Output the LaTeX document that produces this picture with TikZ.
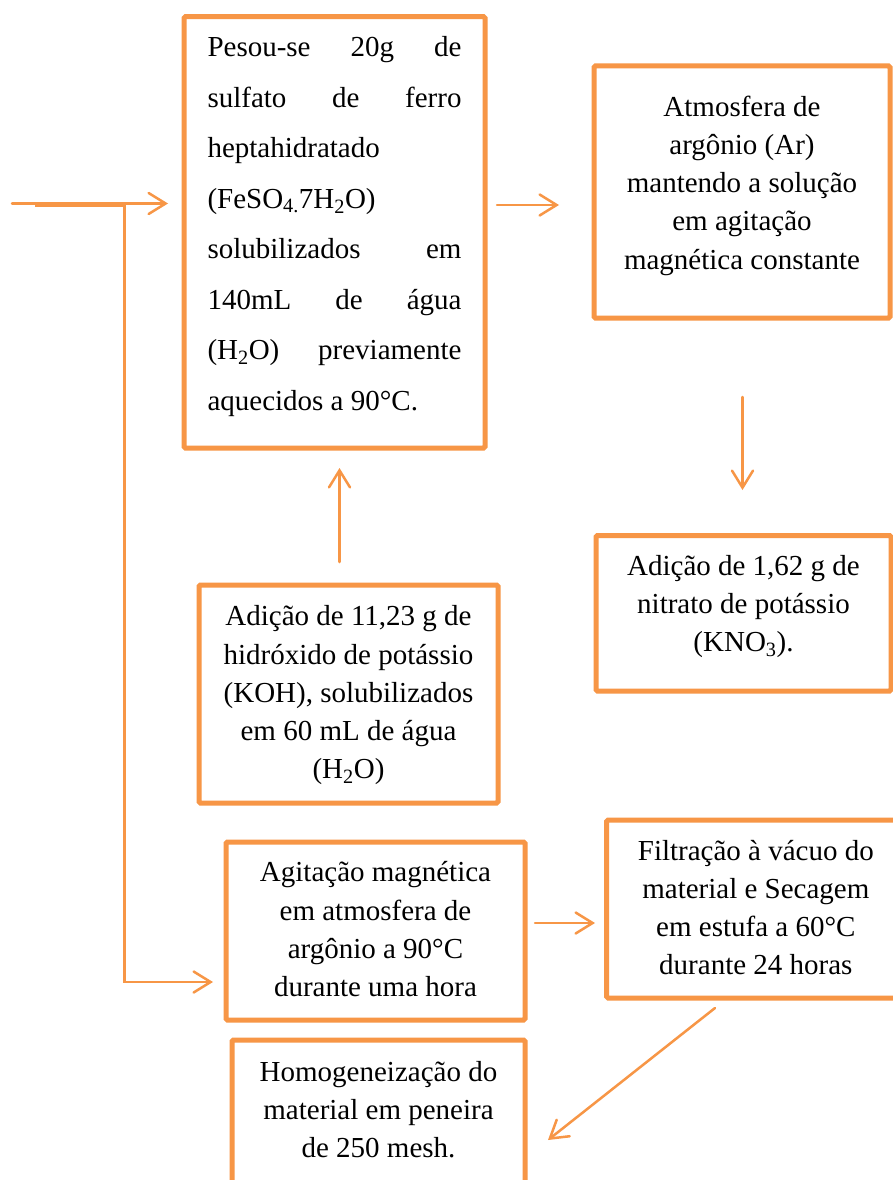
\documentclass[tikz,border=0pt]{standalone}
\usepackage{fontspec}
\setmainfont{Liberation Serif}
\usetikzlibrary{arrows.meta,calc}
\definecolor{orng}{HTML}{F79646}
\newcommand{\bxt}[5]{\parbox[c][#1][t]{#2}{\fontsize{29pt}{#3}\selectfont\vspace*{#4}\centering #5}}
\begin{document}
\begin{tikzpicture}[x=1pt,y=-1pt,
  box/.style={draw=orng, line width=5pt, rectangle, inner sep=0pt, outer sep=0pt, rounded corners=1.5pt, fill=white},
  conn/.style={draw=orng, line width=2.5pt, line cap=round, -{Straight Barb[length=17pt,width=21pt,line cap=round]}},
  thickseg/.style={draw=orng, line width=4.5pt}]
\useasboundingbox (0,0) rectangle (893,1180);
\fill[white] (0,0) rectangle (893,1180);
\clip (0,0) rectangle (893,1180);

% boxes
\node[box] (b1) at (334.5,232.35) {\parbox[c][431.3pt][t]{301pt}{\fontsize{29pt}{50.5pt}\selectfont\vspace*{4.65pt}\centering
  \parbox[t]{254pt}{\strut Pesou-se\hfill 20g\hfill de\\
  \strut sulfato\hfill de\hfill ferro\\
  \strut heptahidratado\\
  \strut (FeSO\textsubscript{4.}7H\textsubscript{2}O)\\
  \strut solubilizados\hfill em\\
  \strut 140mL\hfill de\hfill água\\
  \strut (H\textsubscript{2}O)\hfill previamente\\
  \strut aquecidos a 90°C.}}};

\node[box] (b2) at (742,192) {\bxt{252pt}{296pt}{38.3pt}{23.19pt}{%
  \strut Atmosfera de\\ \strut argônio (Ar)\\ \strut mantendo a solução\\ \strut em agitação\\ \strut magnética constante}};

\node[box] (b3) at (743.5,613.25) {\bxt{155.5pt}{295pt}{38.3pt}{12.69pt}{%
  \strut Adição de 1,62 g de\\ \strut nitrato de potássio\\ \strut (KNO\textsubscript{3}).}};

\node[box] (b4) at (348.5,694) {\bxt{218pt}{299pt}{38.3pt}{13.89pt}{%
  \strut Adição de 11,23 g de\\ \strut hidróxido de potássio\\ \strut (KOH), solubilizados\\ \strut em 60 mL de água\\ \strut (H\textsubscript{2}O)}};

\node[box] (b5) at (375.5,931) {\bxt{178pt}{299pt}{38.3pt}{12.89pt}{%
  \strut Agitação magnética\\ \strut em atmosfera de\\ \strut argônio a 90°C\\ \strut durante uma hora}};

\node[box] (b6) at (755.85,909) {\bxt{178pt}{298.3pt}{38.3pt}{13.19pt}{%
  \strut Filtração à vácuo do\\ \strut material e Secagem\\ \strut em estufa a 60°C\\ \strut durante 24 horas}};

\node[box] (b7) at (378.5,1130) {\bxt{180pt}{293pt}{38.3pt}{14.19pt}{%
  \strut Homogeneização do\\ \strut material em peneira\\ \strut de 250 mesh.}};

% helper coordinates
\coordinate (in0) at (12,203.5);
\coordinate (jA) at (35,205);
\coordinate (jB) at (124.5,205);
\coordinate (jC) at (124.5,982);
\coordinate (r1) at (0,205);
\coordinate (c2) at (742.5,0);
\coordinate (c1) at (339.5,0);
\coordinate (r5) at (0,923);

% connectors
\draw[conn, shorten >=16pt] (in0) -- (in0 -| b1.west);
\draw[thickseg] (jA) -- (jB);
\draw[conn, line cap=butt, shorten >=13pt] (jB) -- (jC) -- (jC -| b5.west);
\draw[conn, shorten <=12pt, shorten >=35pt] (b1.east |- r1) -- (b2.west |- r1);
\draw[conn, shorten <=79pt, shorten >=45.5pt] (b2.south -| c2) -- (b3.north -| c2);
\draw[conn, shorten <=23pt, shorten >=20pt] (b4.north -| c1) -- (b1.south -| c1);
\draw[conn, shorten <=10pt, shorten >=11.7pt] (b5.east |- r5) -- (b6.west |- r5);
\draw[conn] ([xshift=108.3pt,yshift=-10pt]b6.south west) -- ([xshift=23pt,yshift=-100pt]b7.north east);
\end{tikzpicture}
\end{document}
